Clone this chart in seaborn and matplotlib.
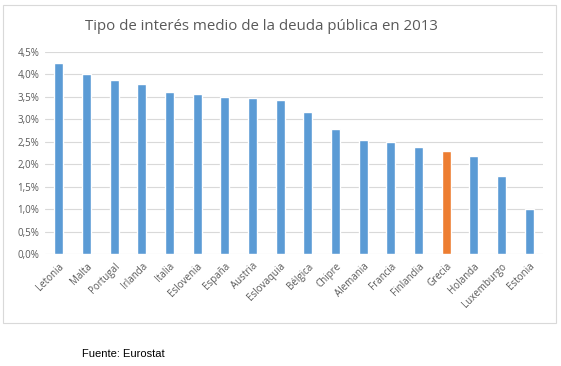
import matplotlib
matplotlib.use('Agg')
import matplotlib.pyplot as plt
import seaborn as sb
from matplotlib.patches import Rectangle

# datos (Eurostat, 2013)
paises = ['Letonia', 'Malta', 'Portugal', 'Irlanda', 'Italia', 'Eslovenia', 'España',
          'Austria', 'Eslovaquia', 'Bélgica', 'Chipre', 'Alemania', 'Francia',
          'Finlandia', 'Grecia', 'Holanda', 'Luxemburgo', 'Estonia']
tipos = [4.26, 4.00, 3.87, 3.78, 3.60, 3.56, 3.50, 3.47, 3.43, 3.16, 2.78, 2.54,
         2.50, 2.38, 2.29, 2.19, 1.73, 1.01]
destacado = 'Grecia'
yticks = [0.0, 0.5, 1.0, 1.5, 2.0, 2.5, 3.0, 3.5, 4.0, 4.5]

azul = '#5B9BD5'
naranja = '#ED7D31'
gris = '#595959'

sb.set_theme(style='white')
plt.rcParams['font.family'] = ['Open Sans', 'DejaVu Sans']

fig = plt.figure(figsize=(5.61, 3.66), dpi=100)
ax = fig.add_axes([0.080, 0.306, 0.888, 0.552])

colores = {p: (naranja if p == destacado else azul) for p in paises}
sb.barplot(x=paises, y=tipos, hue=paises, palette=colores, legend=False,
           width=0.33, saturation=1, ax=ax)

ax.set_ylim(0, 4.5)
ax.set_yticks(yticks)
ax.set_yticklabels([('%.1f%%' % v).replace('.', ',') for v in yticks],
                   fontsize=7, color=gris)
ax.set_xticks(range(len(paises)))
ax.set_xticklabels(paises, rotation=45, ha='right', rotation_mode='anchor',
                   fontsize=7, color=gris)
ax.tick_params(axis='y', length=0, pad=4)
ax.tick_params(axis='x', length=0, pad=5)
ax.set_xlim(-0.5, len(paises) - 0.5)
ax.yaxis.grid(True, color='#D9D9D9', linewidth=0.8)
ax.set_axisbelow(True)
for s in ax.spines.values():
    s.set_visible(False)
ax.set_xlabel('')
ax.set_ylabel('')

# marco del gráfico
fig.patches.append(Rectangle((3 / 561, 1 - 323 / 366), 553 / 561, 318 / 366,
                             transform=fig.transFigure, fill=False,
                             edgecolor='#D9D9D9', linewidth=0.8))

fig.text(261 / 561, 1 - 27 / 366, 'Tipo de interés medio de la deuda pública en 2013',
         ha='center', va='center', fontsize=10.8, color=gris)
fig.text(82 / 561, 1 - 354 / 366, 'Fuente: Eurostat', ha='left', va='center',
         fontsize=8, color='black', family=['Liberation Sans', 'DejaVu Sans'])

fig.savefig('out.png', dpi=100)
